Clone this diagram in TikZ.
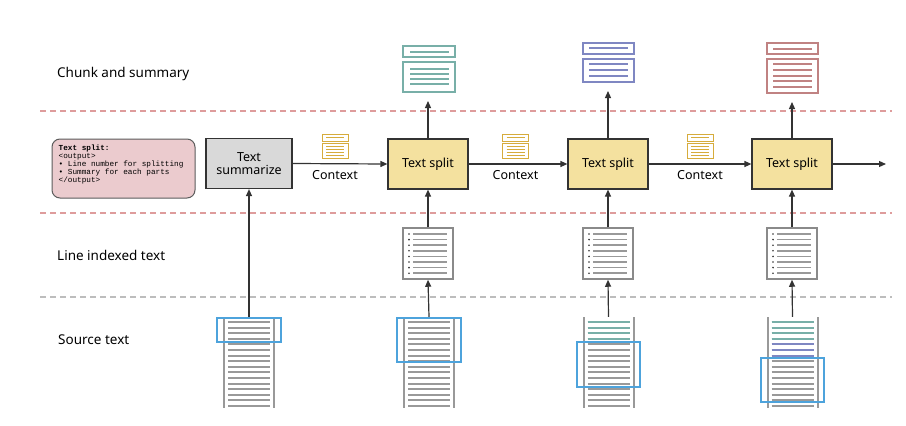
\documentclass[tikz,border=0pt]{standalone}
\usepackage{fontspec}
\setmainfont{Noto Sans}
\setmonofont{Liberation Mono}
\usetikzlibrary{arrows.meta}
\definecolor{arr}{HTML}{333333}
\definecolor{pinkdash}{HTML}{DE9C9C}
\definecolor{graydash}{HTML}{BDBDBD}
\definecolor{pinkfill}{HTML}{EBCBCE}
\definecolor{summfill}{HTML}{D9D9D9}
\definecolor{splitfill}{HTML}{F4E19F}
\definecolor{gold}{HTML}{D6AC3C}
\definecolor{teal}{HTML}{78AFA8}
\definecolor{bluec}{HTML}{7F87C2}
\definecolor{redc}{HTML}{C08282}
\definecolor{docgray}{HTML}{999999}
\definecolor{hilite}{HTML}{4DA3DC}
\tikzset{
  conn/.style={draw=arr, line width=1.2pt, -{Triangle[length=7pt,width=6pt]}},
  procbox/.style={draw=arr, line width=1.2pt, minimum width=80pt, minimum height=50pt, inner sep=0pt, align=center, font=\fontsize{12.5}{13.5}\selectfont},
  lbl/.style={font=\fontsize{13.5}{15}\selectfont, anchor=west, inner sep=0pt},
  ctxlbl/.style={font=\fontsize{12.5}{14}\selectfont, inner sep=0pt},
  docl/.style={draw=docgray, line width=2pt},
  idxl/.style={draw=docgray, line width=1.5pt},
}
\begin{document}
\begin{tikzpicture}[x=1pt,y=-1pt]
\useasboundingbox (0,0) rectangle (906,426);
% dashed separators
\draw[pinkdash, line width=1.3pt, dash pattern=on 6pt off 4pt] (40,111) -- (892,111);
\draw[pinkdash, line width=1.3pt, dash pattern=on 6pt off 4pt] (40,213) -- (892,213);
\draw[graydash, line width=1.3pt, dash pattern=on 6pt off 4pt] (40,297) -- (892,297);
% row labels
\node[lbl] (lchunk) at (57,74) {Chunk and summary};
\node[lbl] (lidx) at (57,255) {Line indexed text};
\node[lbl] (lsrc) at (58,340) {Source text};
% spec box
\node[draw=arr!80, line width=1pt, fill=pinkfill, rounded corners=8pt, minimum width=143pt, minimum height=59pt] (spec) at (123.5,168.5) {};
\node[anchor=west, inner sep=0pt, align=left, font=\ttfamily\fontsize{7.7}{8.1}\selectfont] (spectext) at (58.5,164.5)
 {\textbf{Text split:}\\<output>\\\textbullet{} Line number for splitting\\\textbullet{} Summary for each parts\\</output>};
% process boxes
\node[procbox, fill=summfill, minimum width=86pt] (summ) at (249,163.5) {Text\\summarize};
\node[procbox, fill=splitfill] (s1) at (428,164) {Text split};
\node[procbox, fill=splitfill] (s2) at (608,164) {Text split};
\node[procbox, fill=splitfill] (s3) at (792,164) {Text split};
\coordinate (outend) at (886,164);
% context icons and labels
\foreach \cx/\nm in {335/c1, 515.5/c2, 700/c3} {
  \draw[gold, line width=1pt, fill=white] (\cx-13,134.5) rectangle (\cx+13,141);
  \draw[gold, line width=1pt] (\cx-9,137.8) -- (\cx+9,137.8);
  \draw[gold, line width=1pt, fill=white] (\cx-13,143) rectangle (\cx+13,158.5);
  \foreach \yy in {146.5,149.5,152.5,155.5} \draw[gold, line width=1pt] (\cx-9,\yy) -- (\cx+9,\yy);
  \node[ctxlbl] (\nm) at (\cx,175) {Context};
}
% horizontal arrows
\draw[conn] (summ.east) -- (s1.west);
\draw[conn] (s1.east) -- (s2.west);
\draw[conn] (s2.east) -- (s3.west);
\draw[conn] (s3.east) -- (outend);
% chunk icons
% teal
\draw[teal, line width=2pt] (403,46) rectangle (455,57);
\draw[teal, line width=2pt] (410,51.5) -- (449,51.5);
\node[draw=teal, line width=2pt, minimum width=52pt, minimum height=30pt, inner sep=0pt] (ch1) at (429,77) {};
\foreach \yy in {69,74.2,79.3,84.4} \draw[teal, line width=2pt] (410,\yy) -- (449,\yy);
% blue
\draw[bluec, line width=2pt] (583,42.5) rectangle (634,54);
\draw[bluec, line width=2pt] (589,48.3) -- (628,48.3);
\node[draw=bluec, line width=2pt, minimum width=51pt, minimum height=23pt, inner sep=0pt] (ch2) at (608.5,70.5) {};
\foreach \yy in {64.3,70,75.7} \draw[bluec, line width=2pt] (589,\yy) -- (628,\yy);
% red
\draw[redc, line width=2pt] (767,43) rectangle (818,54);
\draw[redc, line width=2pt] (773,48.5) -- (812,48.5);
\node[draw=redc, line width=2pt, minimum width=51pt, minimum height=34pt, inner sep=0pt] (ch3) at (792.5,76) {};
\foreach \yy in {64.3,70,75.7,81.3,87} \draw[redc, line width=2pt] (773,\yy) -- (812,\yy);
% up arrows to chunks
\draw[conn, shorten >=8pt] (s1.north) -- (s1.north |- ch1.south);
\draw[conn, shorten >=8pt] (s2.north) -- (s2.north |- ch2.south);
\draw[conn, shorten >=8pt] (s3.north) -- (s3.north |- ch3.south);
% line indexed docs
\foreach \cx/\nm in {428/i1, 608/i2, 792/i3} {
  \node[draw=docgray!90!black, line width=1.5pt, fill=white, minimum width=50pt, minimum height=51pt, inner sep=0pt] (\nm) at (\cx,253.5) {};
  \foreach \k in {0,...,7} {
    \fill[arr] (\cx-19,234+5.6*\k) circle (0.9pt);
    \draw[idxl] (\cx-15,234+5.6*\k) -- (\cx+19,234+5.6*\k);
  }
}
\draw[conn] (i1.north) -- (s1.south);
\draw[conn] (i2.north) -- (s2.south);
\draw[conn] (i3.north) -- (s3.south);
% source docs
\foreach \cx/\nm in {249/d1, 429/d2, 608.5/d3, 792.5/d4} {
  \node[minimum width=50pt, minimum height=91pt, inner sep=0pt] (\nm) at (\cx,362.5) {};
  \draw[docl] (\cx-25,317) -- (\cx-25,408);
  \draw[docl] (\cx+25,317) -- (\cx+25,408);
  \foreach \k in {0,...,15} \draw[docl] (\cx-21,322+5.6*\k) -- (\cx+21,322+5.6*\k);
}
% coloured lines in source docs
\foreach \k in {0,...,3} \draw[teal, line width=2pt] (608.5-21,322+5.6*\k) -- (608.5+21,322+5.6*\k);
\foreach \k in {0,...,3} \draw[teal, line width=2pt] (792.5-21,322+5.6*\k) -- (792.5+21,322+5.6*\k);
\foreach \k in {4,...,6} \draw[bluec, line width=2pt] (792.5-21,322+5.6*\k) -- (792.5+21,322+5.6*\k);
% highlight windows
\draw[hilite, line width=2pt] (217,318) rectangle (281,342);
\draw[hilite, line width=2pt] (397,318) rectangle (461,362);
\draw[hilite, line width=2pt] (577,342) rectangle (640,387);
\draw[hilite, line width=2pt] (761,358) rectangle (824,402);
% source to processing arrows
\draw[conn] (d1.north) -- (summ.south);
\draw[conn] (d2.north) -- (i1.south);
\draw[conn] (d3.north) -- (i2.south);
\draw[conn] (d4.north) -- (i3.south);
\end{tikzpicture}
\end{document}
